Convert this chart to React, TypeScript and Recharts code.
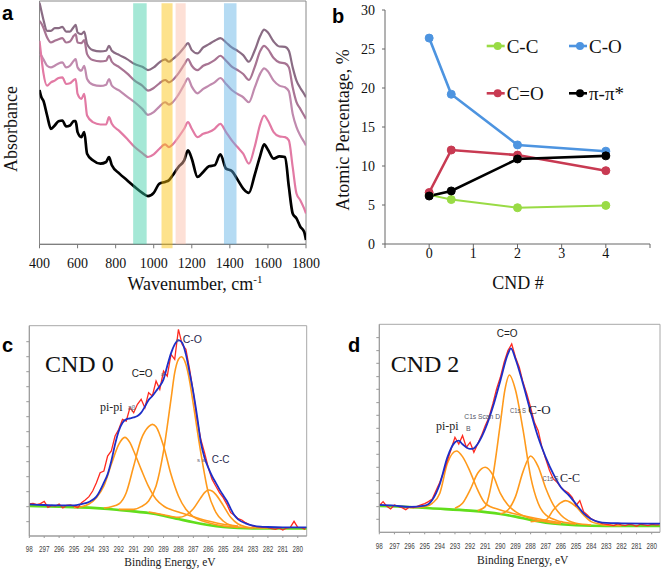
import React from 'react';
import { LineChart, Line, XAxis, YAxis, ReferenceArea } from 'recharts';

const SERIF = '"Liberation Serif", "Times New Roman", serif';
const SANS = '"Liberation Sans", Arial, sans-serif';

// ---------------- Panel a : FTIR spectra ----------------
const wavenumbers = [400, 410, 420, 440, 460, 480, 500, 520, 540, 560, 580, 590, 600, 620, 635, 650, 680, 720, 750, 765, 780, 820, 860, 900, 940, 970, 1000, 1030, 1060, 1080, 1100, 1130, 1160, 1180, 1200, 1230, 1260, 1290, 1320, 1350, 1380, 1410, 1440, 1470, 1500, 1530, 1560, 1580, 1600, 1630, 1660, 1690, 1710, 1730, 1750, 1770, 1790, 1800];
const spectrum1 = [728, 703, 678, 643, 643, 651, 651, 655, 641, 641, 655, 661, 638, 633, 641, 603, 585, 581, 583, 598, 583, 570, 558, 543, 535, 525, 533, 548, 557, 550, 558, 573, 593, 606, 585, 575, 593, 603, 613, 621, 608, 593, 583, 570, 550, 583, 628, 647, 638, 611, 596, 595, 583, 533, 493, 471, 453, 443];
const spectrum2 = [673, 665, 653, 623, 608, 613, 618, 621, 608, 611, 628, 633, 608, 606, 615, 573, 555, 551, 553, 568, 550, 533, 515, 493, 478, 463, 471, 485, 495, 488, 495, 515, 541, 558, 538, 525, 538, 545, 555, 568, 553, 535, 525, 513, 495, 533, 583, 598, 588, 561, 548, 545, 533, 473, 428, 408, 388, 378];
const spectrum3 = [573, 568, 558, 538, 533, 538, 545, 548, 533, 538, 553, 558, 533, 523, 538, 498, 481, 477, 481, 498, 478, 463, 445, 428, 408, 390, 398, 415, 428, 421, 428, 451, 481, 500, 475, 455, 468, 478, 488, 501, 483, 465, 453, 443, 428, 471, 515, 530, 521, 493, 478, 473, 461, 393, 353, 328, 308, 298];
const spectrum4 = [613, 563, 518, 478, 488, 493, 501, 503, 483, 485, 495, 498, 453, 438, 453, 388, 368, 361, 361, 383, 363, 341, 318, 293, 275, 263, 271, 288, 301, 293, 301, 323, 348, 368, 348, 323, 333, 338, 348, 363, 338, 313, 293, 273, 243, 293, 363, 388, 373, 338, 325, 323, 313, 233, 153, 133, 108, 93];
const spectrum5 = [465, 443, 433, 388, 348, 358, 371, 373, 355, 358, 371, 371, 338, 323, 338, 273, 253, 243, 248, 263, 238, 213, 193, 173, 155, 145, 155, 183, 188, 193, 208, 233, 253, 283, 258, 203, 218, 235, 238, 271, 228, 221, 195, 168, 155, 208, 268, 301, 285, 258, 265, 263, 173, 93, 78, 53, 38, 13];
const ftirTicks = [400, 600, 800, 1000, 1200, 1400, 1600, 1800];
const ftirKeys = ['s1', 's2', 's3', 's4', 's5'];
const ftirColors = ['#8a6c84', '#a87493', '#c08aae', '#e27aa4', '#000000'];
const ftirWidths = [2.2, 2.2, 2.2, 2.2, 2.7];
const bandStart = [892, 1041, 1115, 1369];
const bandEnd = [963, 1099, 1168, 1435];
const bandColors = ['#37cca4', '#fbbf00', '#fbbba4', '#5bb0e5'];
const bandBottom = [0, -12, 0, 0];

const ftirRows = wavenumbers.map((wn, i) => ({
  wn,
  s1: spectrum1[i],
  s2: spectrum2[i],
  s3: spectrum3[i],
  s4: spectrum4[i],
  s5: spectrum5[i],
}));

// ---------------- Panel b : atomic percentage ----------------
const cndValues = [0, 0.5, 2, 4];
const ccValues = [6.3, 5.7, 4.65, 4.95];
const coValues = [26.4, 19.2, 12.7, 11.9];
const cdoValues = [6.6, 12.05, 11.4, 9.4];
const pipiValues = [6.15, 6.8, 10.9, 11.3];
const bNames = ['C-C', 'C-O', 'C=O', 'π-π*'];
const bColors = ['#99db45', '#4d94e0', '#c83a52', '#000000'];
const bSeries = [ccValues, coValues, cdoValues, pipiValues];
const bXTicks = [-1, 0, 1, 2, 3, 4, 5];
const bYTicks = [0, 5, 10, 15, 20, 25, 30];

// ---------------- Panels c, d : XPS C1s ----------------
const xpsTicks = [298, 297, 296, 295, 294, 293, 292, 291, 290, 289, 288, 287, 286, 285, 284, 283, 282, 281, 280];
const xpsTickLabels = ['98', '297', '296', '295', '294', '293', '292', '291', '290', '289', '288', '287', '286', '285', '284', '283', '282', '281', '280'];
const rawEV = [298, 297.75, 297.5, 297.25, 297, 296.75, 296.5, 296.25, 296, 295.75, 295.5, 295.25, 295, 294.75, 294.5, 294.25, 294, 293.75, 293.5, 293.25, 293, 292.75, 292.5, 292.25, 292, 291.75, 291.5, 291.25, 291, 290.75, 290.5, 290.25, 290, 289.75, 289.5, 289.25, 289, 288.75, 288.5, 288.25, 288, 287.75, 287.5, 287.25, 287, 286.75, 286.5, 286.25, 286, 285.75, 285.5, 285.25, 285, 284.75, 284.5, 284.25, 284, 283.75, 283.5, 283.25, 283, 282.75, 282.5, 282.25, 282, 281.75, 281.5, 281.25, 281, 280.75, 280.5, 280.25, 280, 279.75, 279.5];

// CND 0
const cRaw = [96, 98, 94, 97, 104, 86, 92, 90, 96, 84, 92, 93, 90, 85, 100, 108, 118, 135, 160, 190, 195, 240, 255, 300, 320, 350, 345, 385, 370, 395, 410, 385, 430, 420, 465, 440, 495, 480, 545, 530, 620, 575, 560, 500, 430, 350, 290, 250, 205, 170, 150, 130, 115, 95, 70, 62, 52, 48, 40, 34, 30, 28, 27, 26, 25, 22, 20, 24, 18, 24, 26, 44, 26, 25, 20];
const cEnvEV = [298, 297, 296, 295, 294.5, 294, 293.5, 293, 292.75, 292.5, 292.25, 292, 291.75, 291.5, 291.25, 291, 290.75, 290.5, 290.25, 290, 289.75, 289.5, 289.25, 289, 288.75, 288.5, 288.25, 288, 287.75, 287.5, 287.25, 287, 286.75, 286.5, 286.25, 286, 285.75, 285.5, 285.25, 285, 284.75, 284.5, 284.25, 284, 283.5, 283, 282.5, 282, 281, 280, 279.4];
const cEnv = [95, 93, 92, 92, 96, 102, 118, 160, 185, 225, 275, 315, 340, 350, 353, 356, 360, 370, 388, 408, 420, 435, 450, 470, 510, 548, 575, 588, 580, 545, 490, 430, 360, 282, 235, 205, 180, 160, 140, 122, 105, 82, 62, 50, 38, 31, 28, 27, 26, 26, 26];
const cPiPiEV = [295, 294.5, 294, 293.5, 293, 292.5, 292, 291.6, 291.25, 291, 290.5, 290, 289.5, 289, 288, 287, 286, 285, 284];
const cPiPi = [86, 88, 96, 115, 150, 215, 275, 296, 280, 255, 200, 148, 110, 90, 72, 58, 45, 35, 30];
const cCdoEV = [293, 292.5, 292, 291.5, 291, 290.5, 290, 289.75, 289.5, 289, 288.5, 288, 287.5, 287, 286, 285, 284];
const cCdo = [84, 88, 96, 130, 210, 290, 328, 335, 328, 270, 185, 120, 80, 58, 40, 30, 26];
const cCoEV = [292, 291, 290.5, 290, 289.5, 289, 288.5, 288.25, 288, 287.8, 287.5, 287.25, 287, 286.5, 286, 285.5, 285, 284.5, 284, 283];
const cCo = [80, 80, 88, 105, 150, 255, 410, 490, 530, 538, 515, 465, 395, 250, 130, 72, 45, 32, 27, 24];
const cCcEV = [290, 289, 288, 287.5, 287, 286.5, 286.25, 286, 285.75, 285.5, 285, 284.5, 284, 283.5, 283, 282];
const cCc = [72, 64, 56, 62, 82, 115, 130, 138, 135, 125, 92, 56, 36, 28, 25, 24];
const cBaseEV = [298, 296, 294, 293, 292, 291, 290, 289, 288, 287, 286, 285, 284, 283, 281, 279.4];
const cBase = [90, 88, 85, 82, 78, 74, 69, 61, 51, 41, 33, 27, 24, 23, 23, 23];
const cYTicks = [583, 538, 493, 448, 403, 358, 313, 268, 223, 178, 133, 88, 43];

// CND 2
const dRaw = [80, 92, 78, 70, 82, 78, 74, 68, 76, 74, 78, 82, 86, 92, 100, 125, 150, 180, 215, 250, 285, 265, 290, 255, 270, 240, 265, 290, 320, 345, 385, 430, 465, 510, 545, 565, 525, 495, 450, 415, 375, 330, 305, 255, 220, 185, 160, 150, 135, 125, 118, 105, 80, 95, 62, 52, 40, 35, 30, 26, 24, 22, 20, 25, 22, 20, 24, 22, 18, 24, 22, 20, 24, 22, 22];
const dEnvEV = [298, 297, 296, 295, 294.5, 294, 293.5, 293, 292.75, 292.5, 292, 291.75, 291.5, 291, 290.5, 290, 289.5, 289.3, 289, 288.5, 288, 287.5, 287, 286.5, 286, 285.5, 285, 284.5, 284, 283.5, 283, 282, 279.4];
const dEnv = [82, 80, 76, 80, 97, 145, 225, 270, 275, 264, 250, 252, 265, 310, 375, 455, 535, 552, 520, 445, 362, 285, 225, 175, 135, 112, 85, 57, 40, 31, 28, 27, 26];
const dPiPiEV = [296, 295, 294.5, 294, 293.5, 292.9, 292.5, 292, 291.5, 291, 290, 289, 288, 287, 286];
const dPiPi = [74, 77, 87, 117, 207, 244, 227, 182, 127, 87, 67, 55, 45, 36, 29];
const dScanEV = [293, 292.5, 292, 291.5, 291, 290.5, 290, 289.5, 289, 288, 287, 286];
const dScan = [72, 87, 127, 177, 195, 172, 117, 82, 62, 42, 32, 26];
const dCdoEV = [291.5, 291, 290.5, 290, 289.7, 289.4, 289, 288.5, 288, 287.5, 287, 286, 285];
const dCdo = [65, 77, 167, 327, 427, 472, 427, 307, 167, 87, 52, 32, 25];
const dCoEV = [290, 289.5, 289, 288.5, 288, 287.5, 287, 286.5, 286, 285, 284];
const dCo = [55, 67, 107, 182, 229, 197, 132, 82, 52, 27, 22];
const dCcEV = [288, 287, 286.5, 286, 285.7, 285, 284.5, 284, 283.5, 283, 282];
const dCc = [32, 37, 67, 89, 95, 77, 52, 32, 25, 21, 20];
const dBaseEV = [298, 296, 294.65, 292, 290, 289, 288, 287, 286, 285, 283, 279.4];
const dBase = [79, 76, 72, 65, 55, 47, 37, 29, 24, 21, 19, 19];
const dYTicks = [584, 545, 507, 467, 429, 389, 351, 312, 272, 234, 195, 155, 117, 77, 39];

const pts = (xs: number[], ys: number[]) => xs.map((e, i) => ({ e, v: ys[i] }));

const RED = '#ff2a1f';
const BLUE = '#1e2fc8';
const ORANGE = '#ff9a1c';
const GREEN = '#62de1c';

const XpsTick = (props: any) => {
  const { x, y, payload, dy } = props;
  const idx = xpsTicks.indexOf(payload.value);
  const label = idx >= 0 ? xpsTickLabels[idx] : String(payload.value);
  return (
    <text
      x={x}
      y={y + dy}
      textAnchor="middle"
      fontSize={9.5}
      fontFamily={SANS}
      fill="#444"
      textLength={label.length * 3.5}
      lengthAdjust="spacingAndGlyphs"
    >
      {label}
    </text>
  );
};

// serif tick used by panels a and b
const SerifTick = (props: any) => {
  const { x, y, payload, anchor, dy, fmt } = props;
  const label = fmt ? fmt(payload.value) : String(payload.value);
  if (!label) return null;
  return (
    <text x={x} y={y + dy} textAnchor={anchor} fontSize={14} fontFamily={SERIF} fill="#111">
      {label}
    </text>
  );
};

const bXFmt = (v: number) => (v >= 0 && v <= 4 ? String(v) : '');

const PanelA = () => (
  <LineChart width={330} height={290} data={ftirRows} margin={{ top: 1, right: 24, bottom: 15.7, left: 39.5 }}>
    <XAxis
      dataKey="wn"
      type="number"
      domain={[400, 1800]}
      allowDataOverflow
      ticks={ftirTicks}
      interval={0}
      height={30}
      tickSize={4}
      tickMargin={9.5}
      axisLine={{ stroke: '#777' }}
      tickLine={{ stroke: '#777' }}
      tick={<SerifTick anchor="middle" dy={10} />}
    />
    <YAxis type="number" domain={[0, 733]} hide allowDataOverflow />
    <ReferenceArea x1={400} x2={1800} y1={0} y2={733} fill="none" stroke="#888" strokeWidth={1} ifOverflow="visible" />
    {ftirKeys.map((k, i) => (
      <Line
        key={k}
        dataKey={k}
        type="monotone"
        stroke={ftirColors[i]}
        strokeWidth={ftirWidths[i]}
        dot={false}
        isAnimationActive={false}
      />
    ))}
    {bandStart.map((b, i) => (
      <ReferenceArea
        key={'band' + i}
        x1={b}
        x2={bandEnd[i]}
        y1={bandBottom[i]}
        y2={726}
        fill={bandColors[i]}
        fillOpacity={0.45}
        stroke="none"
        ifOverflow="visible"
        {...({ zIndex: 1000 } as any)}
      />
    ))}
  </LineChart>
);

const PanelB = () => (
  <LineChart width={331} height={290} margin={{ top: 10, right: 11, bottom: 16, left: 0 }}>
    <XAxis
      dataKey="x"
      type="number"
      domain={[-1, 5]}
      allowDataOverflow
      ticks={bXTicks}
      interval={0}
      height={30}
      tickSize={4}
      tickMargin={0}
      axisLine={{ stroke: '#666' }}
      tickLine={{ stroke: '#666' }}
      tick={<SerifTick anchor="middle" dy={9.5} fmt={bXFmt} />}
    />
    <YAxis
      type="number"
      domain={[0, 30]}
      allowDataOverflow
      ticks={bYTicks}
      interval={0}
      width={55}
      tickSize={3}
      tickMargin={7}
      axisLine={{ stroke: '#666' }}
      tickLine={{ stroke: '#666' }}
      tick={<SerifTick anchor="end" dy={4.6} />}
    />
    {bSeries.map((vals, i) => (
      <Line
        key={bNames[i]}
        data={cndValues.map((x, j) => ({ x, y: vals[j] }))}
        dataKey="y"
        name={bNames[i]}
        type="linear"
        stroke={bColors[i]}
        strokeWidth={i === 0 ? 2 : 2.6}
        dot={{ r: 4, fill: bColors[i], stroke: bColors[i], strokeWidth: 1 }}
        isAnimationActive={false}
      />
    ))}
  </LineChart>
);

type XpsProps = {
  margin: { top: number; right: number; bottom: number; left: number };
  width: number;
  ymax: number;
  xmin: number;
  yTicks: number[];
  tickDy: number;
  base: { e: number; v: number }[];
  peaks: { e: number; v: number }[][];
  raw: { e: number; v: number }[];
  env: { e: number; v: number }[];
};

const XpsPanel = (p: XpsProps) => (
  <LineChart width={p.width} height={282} margin={p.margin}>
    <XAxis
      dataKey="e"
      type="number"
      domain={[p.xmin, 298]}
      reversed
      allowDataOverflow
      ticks={xpsTicks}
      interval={0}
      height={20}
      tickSize={2}
      tickMargin={2}
      axisLine={{ stroke: '#999' }}
      tickLine={{ stroke: '#999' }}
      tick={<XpsTick dy={p.tickDy} />}
    />
    <YAxis
      type="number"
      domain={[0, p.ymax]}
      allowDataOverflow
      ticks={p.yTicks}
      interval={0}
      width={3}
      tickSize={3}
      tickFormatter={() => ''}
      axisLine={{ stroke: '#999' }}
      tickLine={{ stroke: '#999' }}
    />
    <ReferenceArea x1={p.xmin} x2={298} y1={0} y2={p.ymax} fill="none" stroke="#a8a8a8" strokeWidth={1} ifOverflow="visible" />
    <Line data={p.base} dataKey="v" type="monotone" stroke={GREEN} strokeWidth={2.6} dot={false} isAnimationActive={false} />
    {p.peaks.map((pk, i) => (
      <Line key={'pk' + i} data={pk} dataKey="v" type="monotone" stroke={ORANGE} strokeWidth={1.6} dot={false} isAnimationActive={false} />
    ))}
    <Line data={p.raw} dataKey="v" type="linear" stroke={RED} strokeWidth={1.3} dot={false} isAnimationActive={false} />
    <Line data={p.env} dataKey="v" type="monotone" stroke={BLUE} strokeWidth={1.8} dot={false} isAnimationActive={false} />
  </LineChart>
);

const Legend = () => {
  const colX = [486.7, 569];
  const rowY = [46, 93.3];
  return (
    <g>
      {bNames.map((n, i) => {
        const x = colX[i % 2];
        const y = rowY[Math.floor(i / 2)];
        return (
          <g key={n}>
            <line x1={x} y1={y} x2={x + 18} y2={y} stroke={bColors[i]} strokeWidth={2.6} />
            <circle cx={x + 11} cy={y} r={4} fill={bColors[i]} />
            <text x={x + 20} y={y + 7} fontSize={19} fontFamily={SERIF} fill="#111">
              {n}
            </text>
          </g>
        );
      })}
    </g>
  );
};

export default function App() {
  return (
    <div style={{ position: 'absolute', left: 0, top: 0, width: 661, height: 572, background: '#fff', overflow: 'hidden' }}>
      <div style={{ position: 'absolute', left: 0, top: 0 }}>
        <PanelA />
      </div>
      <div style={{ position: 'absolute', left: 330, top: 0 }}>
        <PanelB />
      </div>
      <div style={{ position: 'absolute', left: 0, top: 290 }}>
        <XpsPanel
          width={330}
          margin={{ top: 35.7, right: 23.3, bottom: 16, left: 26.3 }}
          ymax={631}
          xmin={279.4}
          yTicks={cYTicks}
          tickDy={11.5}
          base={pts(cBaseEV, cBase)}
          peaks={[pts(cPiPiEV, cPiPi), pts(cCdoEV, cCdo), pts(cCoEV, cCo), pts(cCcEV, cCc)]}
          raw={pts(rawEV, cRaw)}
          env={pts(cEnvEV, cEnv)}
        />
      </div>
      <div style={{ position: 'absolute', left: 330, top: 290 }}>
        <XpsPanel
          width={331}
          margin={{ top: 34.3, right: 1, bottom: 19.7, left: 46.3 }}
          ymax={624}
          xmin={279.45}
          yTicks={dYTicks}
          tickDy={12.4}
          base={pts(dBaseEV, dBase)}
          peaks={[pts(dPiPiEV, dPiPi), pts(dScanEV, dScan), pts(dCdoEV, dCdo), pts(dCoEV, dCo), pts(dCcEV, dCc)]}
          raw={pts(rawEV, dRaw)}
          env={pts(dEnvEV, dEnv)}
        />
      </div>
      <svg width={661} height={572} style={{ position: 'absolute', left: 0, top: 0, pointerEvents: 'none' }}>
        {/* panel letters */}
        <text x={2} y={20} fontSize={20} fontWeight="bold" fontFamily={SANS} fill="#000">a</text>
        <text x={332} y={23} fontSize={20} fontWeight="bold" fontFamily={SANS} fill="#000">b</text>
        <text x={2} y={352} fontSize={20} fontWeight="bold" fontFamily={SANS} fill="#000">c</text>
        <text x={348} y={352} fontSize={20} fontWeight="bold" fontFamily={SANS} fill="#000">d</text>

        {/* panel a titles */}
        <text transform="translate(17,129) rotate(-90)" textAnchor="middle" fontSize={18} fontFamily={SERIF} fill="#111">Absorbance</text>
        <text x={195} y={290} textAnchor="middle" fontSize={18} fontFamily={SERIF} fill="#111">
          Wavenumber, cm<tspan dy={-7} fontSize={11}>-1</tspan>
        </text>

        {/* panel b titles */}
        <text transform="translate(349,130) rotate(-90)" textAnchor="middle" fontSize={18} fontFamily={SERIF} fill="#111">Atomic Percentage, %</text>
        <text x={518} y={289} textAnchor="middle" fontSize={18} fontFamily={SERIF} fill="#111">CND #</text>
        <Legend />

        {/* panel c annotations */}
        <text x={45} y={371.7} fontSize={24} fontFamily={SERIF} fill="#111">CND 0</text>
        <text x={100} y={411} fontSize={12} fontFamily={SERIF} fill="#222">pi-pi</text>
        <text x={128} y={410} fontSize={6.5} fontFamily={SANS} fill="#667">aβ</text>
        <text x={131.7} y={377.3} fontSize={10} fontFamily={SANS} fill="#222">C=O</text>
        <text x={161} y={376} fontSize={6} fontFamily={SANS} fill="#667">a</text>
        <text x={176} y={342} fontSize={6} fontFamily={SANS} fill="#667">s</text>
        <text x={182.7} y={343.3} fontSize={10.5} fontFamily={SANS} fill="#2a2a50">C-O</text>
        <text x={197} y={462} fontSize={6} fontFamily={SANS} fill="#667">s a</text>
        <text x={211.7} y={462.7} fontSize={10} fontFamily={SANS} fill="#2a2a50">C-C</text>
        <text x={170} y={566} textAnchor="middle" fontSize={11.5} fontFamily={SERIF} fill="#222">Binding Energy, eV</text>

        {/* panel d annotations */}
        <text x={390.7} y={371.7} fontSize={24} fontFamily={SERIF} fill="#111">CND 2</text>
        <text x={496.7} y={336.7} fontSize={10} fontFamily={SANS} fill="#222">C=O</text>
        <text x={436} y={430} fontSize={12} fontFamily={SERIF} fill="#222">pi-pi</text>
        <text x={464.3} y={419} fontSize={7} fontFamily={SANS} fill="#556" textLength={35.7} lengthAdjust="spacingAndGlyphs">C1s Scan D</text>
        <text x={466} y={431} fontSize={7} fontFamily={SANS} fill="#556">B</text>
        <text x={510} y={413} fontSize={7} fontFamily={SANS} fill="#556" textLength={16} lengthAdjust="spacingAndGlyphs">C1s S</text>
        <text x={528.3} y={414} fontSize={13} fontFamily={SERIF} fill="#223">C-O</text>
        <text x={542.5} y={481} fontSize={7} fontFamily={SANS} fill="#556" textLength={16} lengthAdjust="spacingAndGlyphs">C1s S</text>
        <text x={560} y={481.5} fontSize={12} fontFamily={SERIF} fill="#223">C-C</text>
        <text x={522.7} y={564} textAnchor="middle" fontSize={11.5} fontFamily={SERIF} fill="#222">Binding Energy, eV</text>
      </svg>
    </div>
  );
}
